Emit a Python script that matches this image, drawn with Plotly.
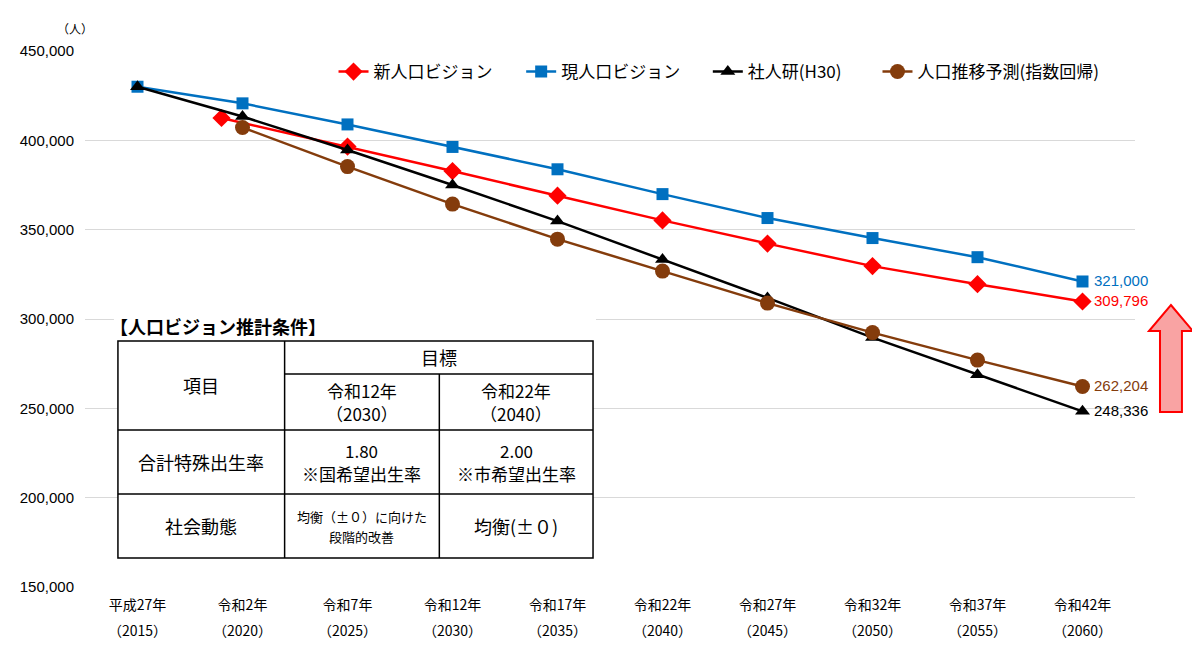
import plotly.graph_objects as go

# x軸（年）
years = [2015, 2020, 2025, 2030, 2035, 2040, 2045, 2050, 2055, 2060]
era_labels = ["平成27年", "令和2年", "令和7年", "令和12年", "令和17年",
              "令和22年", "令和27年", "令和32年", "令和37年", "令和42年"]
year_labels = ["（2015）", "（2020）", "（2025）", "（2030）", "（2035）",
               "（2040）", "（2045）", "（2050）", "（2055）", "（2060）"]

# 新人口ビジョン（2019年から）
new_years = [2019, 2025, 2030, 2035, 2040, 2045, 2050, 2055, 2060]
new_vision = [412500, 396500, 382800, 369000, 355200, 342200, 329600, 319500, 309796]

# 現人口ビジョン
cur_vision = [430000, 420700, 408900, 396300, 383800, 369900, 356500, 345300, 334600, 321000]

# 社人研(H30)
ipss = [430000, 413300, 394600, 375000, 354800, 333300, 311800, 289600, 268800, 248336]

# 人口推移予測(指数回帰)
trend_years = [2020, 2025, 2030, 2035, 2040, 2045, 2050, 2055, 2060]
trend = [407200, 385300, 364300, 344700, 326800, 308900, 292400, 277000, 262204]

# 推計条件の表（セルごとの行）
tbl_title = "【人口ビジョン推計条件】"
tbl_head = [["項目"], ["目標"], ["令和12年", "（2030）"], ["令和22年", "（2040）"]]
tbl_rows = [
    [["合計特殊出生率"], ["1.80", "※国希望出生率"], ["2.00", "※市希望出生率"]],
    [["社会動態"], ["均衡（±０）に向けた", "段階的改善"], ["均衡(±０)"]],
]

JP = "Noto Sans CJK JP"
NUM = "Liberation Sans, Noto Sans CJK JP"

# ページ余白(8px)を差し引いたピクセル -> paper座標
OFF = 8
W, H = 1200 - OFF, 654 - OFF
L, R, T, B = 83, 1135, 51, 587


def px(x):
    return (x - L) / (R - L)


def py(y):
    return (B - y) / (B - T)


fig = go.Figure()

fig.add_trace(go.Scatter(x=new_years, y=new_vision, name="新人口ビジョン", mode="lines+markers",
                         line=dict(color="#ff0000", width=2.5), legend="legend",
                         marker=dict(symbol="diamond", size=14, color="#ff0000")))
fig.add_trace(go.Scatter(x=years, y=cur_vision, name="現人口ビジョン", mode="lines+markers",
                         line=dict(color="#0070c0", width=2.5), legend="legend2",
                         marker=dict(symbol="square", size=12, color="#0070c0")))
fig.add_trace(go.Scatter(x=years, y=ipss, name="社人研(H30)", mode="lines+markers",
                         line=dict(color="#000000", width=2.5), legend="legend3",
                         marker=dict(symbol="triangle-up", size=13, color="#000000")))
fig.add_trace(go.Scatter(x=trend_years, y=trend, name="人口推移予測(指数回帰)", mode="lines+markers",
                         line=dict(color="#843c0c", width=2.5), legend="legend4",
                         marker=dict(symbol="circle", size=15, color="#843c0c")))
# 2段目の年ラベル用の軸(x2)に載せる透明なトレース
fig.add_trace(go.Scatter(x=years, y=cur_vision, xaxis="x2", mode="markers",
                         marker=dict(opacity=0), showlegend=False, hoverinfo="skip"))

annotations = []

# 2060年の数値ラベル
for vals, col in [(cur_vision, "#0070c0"), (new_vision, "#ff0000"),
                  (trend, "#843c0c"), (ipss, "#000000")]:
    annotations.append(dict(x=years[-1], y=vals[-1], text=f"{vals[-1]:,}", showarrow=False,
                            xanchor="left", yanchor="middle", xshift=9, yshift=1,
                            font=dict(family=NUM, size=15, color=col)))

annotations.append(dict(x=px(93), y=py(29), xref="paper", yref="paper", text="（人）",
                        showarrow=False, xanchor="right", yanchor="middle",
                        font=dict(family=JP, size=12, color="#000")))

# 表
cx = [116, 283, 438, 592]
ry = [341, 374, 430, 494, 558]
LW = dict(color="#000", width=1.5)
shapes = [
    dict(type="rect", xref="paper", yref="paper", x0=px(112), x1=px(595), y0=py(312), y1=py(341),
         fillcolor="white", line=dict(width=0), layer="above"),
    dict(type="rect", xref="paper", yref="paper", x0=px(cx[0]), x1=px(cx[3]), y0=py(ry[0]), y1=py(ry[4]),
         fillcolor="white", line=LW, layer="above"),
    dict(type="line", xref="paper", yref="paper", x0=px(cx[1]), x1=px(cx[1]), y0=py(ry[0]), y1=py(ry[4]), line=LW),
    dict(type="line", xref="paper", yref="paper", x0=px(cx[2]), x1=px(cx[2]), y0=py(ry[1]), y1=py(ry[4]), line=LW),
    dict(type="line", xref="paper", yref="paper", x0=px(cx[1]), x1=px(cx[3]), y0=py(ry[1]), y1=py(ry[1]), line=LW),
    dict(type="line", xref="paper", yref="paper", x0=px(cx[0]), x1=px(cx[3]), y0=py(ry[2]), y1=py(ry[2]), line=LW),
    dict(type="line", xref="paper", yref="paper", x0=px(cx[0]), x1=px(cx[3]), y0=py(ry[3]), y1=py(ry[3]), line=LW),
]

# 上向き矢印
arrow = [(1171, 305), (1193, 331), (1182, 331), (1182, 412), (1160, 412), (1160, 331), (1149, 331)]
path = "M " + " L ".join(f"{px(a):.4f},{py(b):.4f}" for a, b in arrow) + " Z"
shapes.append(dict(type="path", xref="paper", yref="paper", path=path,
                   fillcolor="#f9a3a3", line=dict(color="#ff0000", width=2), layer="above"))

annotations.append(dict(x=px(106), y=py(326), xref="paper", yref="paper", text="<b>" + tbl_title + "</b>",
                        showarrow=False, xanchor="left", yanchor="middle",
                        font=dict(family=JP, size=18, color="#000")))


def cell(lines, x0, x1, y0, y1, size=18, gap=23, dy=0):
    out = []
    mid = (y0 + y1) / 2 + dy
    for k, t in enumerate(lines):
        yy = mid + (k - (len(lines) - 1) / 2) * gap
        out.append(dict(x=px((x0 + x1) / 2), y=py(yy), xref="paper", yref="paper", text=t,
                        showarrow=False, xanchor="center", yanchor="middle",
                        font=dict(family=JP, size=size, color="#000")))
    return out


annotations += cell(tbl_head[0], cx[0], cx[1], ry[0], ry[2], dy=-1)
annotations += cell(tbl_head[1], cx[1], cx[3], ry[0], ry[1])
annotations += cell(tbl_head[2], cx[1], cx[2], ry[1], ry[2], size=17)
annotations += cell(tbl_head[3], cx[2], cx[3], ry[1], ry[2], size=17)
for i, row in enumerate(tbl_rows):
    y0, y1 = ry[2 + i], ry[3 + i]
    annotations += cell(row[0], cx[0], cx[1], y0, y1)
    if i == 1:
        annotations += cell(row[1], cx[1], cx[2], y0, y1, size=13, gap=20)
    else:
        annotations += cell(row[1], cx[1], cx[2], y0, y1, size=17)
    annotations += cell(row[2], cx[2], cx[3], y0, y1, size=17 if len(row[2]) > 1 else 18)


def legend_at(x):
    return dict(orientation="h", x=px(x - 8), y=py(72), xanchor="left", yanchor="middle",
                font=dict(family=JP, size=17), bgcolor="rgba(0,0,0,0)")


fig.update_layout(
    width=W, height=H,
    margin=dict(l=L - OFF, r=1200 - R, t=T - OFF, b=654 - B),
    paper_bgcolor="white", plot_bgcolor="white",
    font=dict(family=JP, size=14, color="#000"),
    xaxis=dict(range=[2012.5, 2062.5], tickvals=years, ticktext=era_labels, showgrid=False,
               zeroline=False, showline=False, ticks="", ticklabelstandoff=8,
               tickfont=dict(family=JP, size=14)),
    xaxis2=dict(range=[2012.5, 2062.5], tickvals=years, ticktext=year_labels, overlaying="x",
                side="bottom", anchor="y", showgrid=False, zeroline=False, showline=False,
                ticks="", ticklabelstandoff=34, tickfont=dict(family=JP, size=14)),
    yaxis=dict(range=[150000, 450000], dtick=50000, tickformat=",d", showgrid=True,
               gridcolor="#d9d9d9", gridwidth=1, zeroline=False, showline=False, ticks="",
               ticklabelstandoff=10, tickfont=dict(family=NUM, size=15)),
    legend=legend_at(340),
    legend2=legend_at(528),
    legend3=legend_at(715),
    legend4=legend_at(885),
    shapes=shapes,
    annotations=annotations,
)

fig.write_html("out.html")
